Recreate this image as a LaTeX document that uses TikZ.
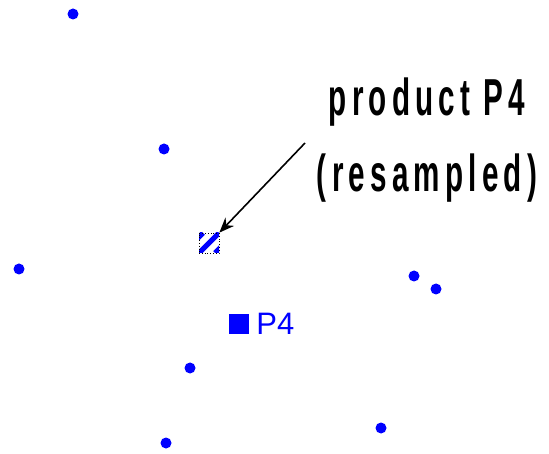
\documentclass[tikz,border=0pt]{standalone}
\usepackage{fontspec}
\setmainfont{Liberation Sans}
\newfontfamily\condfont[FakeStretch=0.57,LetterSpace=10]{Liberation Sans Bold}
\usetikzlibrary{arrows.meta}
\begin{document}
\begin{tikzpicture}[x=1pt,y=-1pt,
  pt/.style={circle,fill=blue,inner sep=0pt,minimum size=11pt},
  lbl/.style={font=\condfont\fontsize{52}{52}\selectfont,inner sep=0pt,anchor=base}]
\useasboundingbox (0,0) rectangle (549,454);
\node[pt] (d1) at (73,14) {};
\node[pt] (d2) at (164,149) {};
\node[pt] (d3) at (19,269) {};
\node[pt] (d4) at (414,276) {};
\node[pt] (d5) at (436,289) {};
\node[pt] (d6) at (190,368) {};
\node[pt] (d7) at (166,443) {};
\node[pt] (d8) at (381,428) {};
\node[fill=blue,inner sep=0pt,minimum size=20pt] (p4) at (239,324) {};
\node[anchor=west,inner sep=0pt,text=blue,font=\fontsize{31}{31}\selectfont] (p4l) at ([xshift=7pt]p4.east) {P4};
% resampled square
\begin{scope}
\clip (199,233) rectangle (219,253);
\fill[white] (199,233) rectangle (219,253);
\foreach \o in {-16,0,16}
  \draw[blue,line width=5pt] (199+\o,253) -- (219+\o,233);
\end{scope}
\node[draw=black,dotted,thick,minimum size=20pt,inner sep=0pt] (rs) at (209,243) {};
\node[lbl] (t1) at (427,116) {product P4};
\node[lbl] (t2) at (427,192) {(resampled)};
\coordinate (a0) at (305,143);
\draw[-{Stealth[length=15pt,width=12pt]},line width=1.6pt] (a0) -- (rs.north east);
\end{tikzpicture}
\end{document}
